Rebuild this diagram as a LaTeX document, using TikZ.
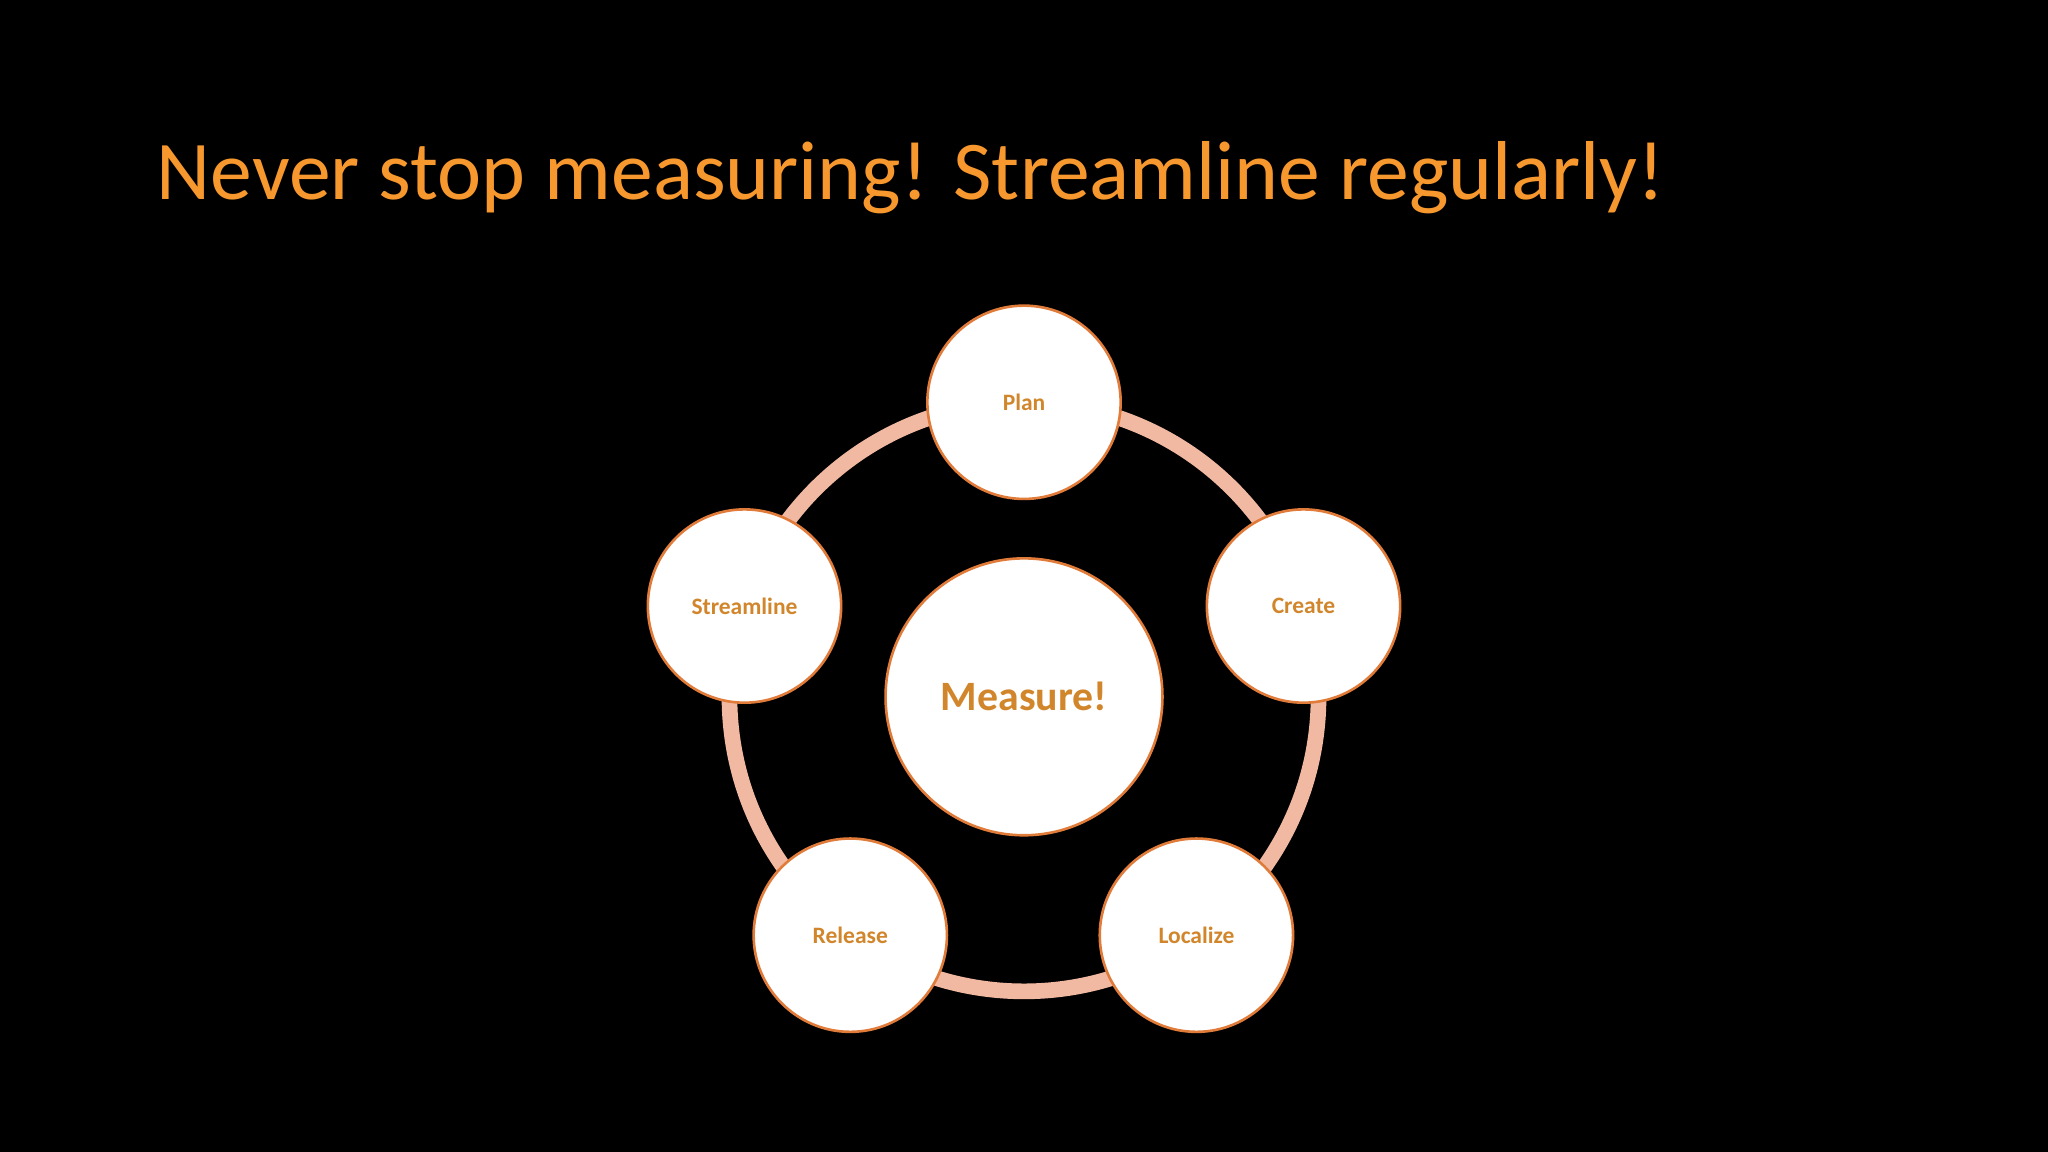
\documentclass[tikz,border=0pt]{standalone}
\usepackage{fontspec}
\setmainfont{Carlito}
\definecolor{ttl}{HTML}{F7982E}
\definecolor{ring}{HTML}{F2B9A2}
\definecolor{edge}{HTML}{E07B39}
\definecolor{lbl}{HTML}{D2862C}
\begin{document}
\begin{tikzpicture}[x=1pt,y=-1pt,
  stage/.style={circle,draw=edge,line width=2pt,fill=white,minimum size=148pt,inner sep=0pt,text=lbl,font=\fontsize{18}{20}\selectfont\bfseries}]
\fill[black] (0,0) rectangle (1568,882);
\node[anchor=base west,text=ttl,font=\fontsize{64}{70}\selectfont,inner sep=0pt] (title) at (120,153) {Never stop measuring! Streamline regularly!};
\coordinate (c) at (784,533.5);
\draw[ring,line width=12pt] (c) circle[radius=225.5];
\node[stage] (plan) at (784,308) {Plan};
\node[stage] (create) at (998,464) {Create};
\node[stage] (loc) at (916,716) {Localize};
\node[stage] (rel) at (651,716) {Release};
\node[stage] (str) at (570,464) {Streamline};
\node[stage,minimum size=212pt,font=\fontsize{32}{36}\selectfont\bfseries] (m) at (c) {Measure!};
\end{tikzpicture}
\end{document}
